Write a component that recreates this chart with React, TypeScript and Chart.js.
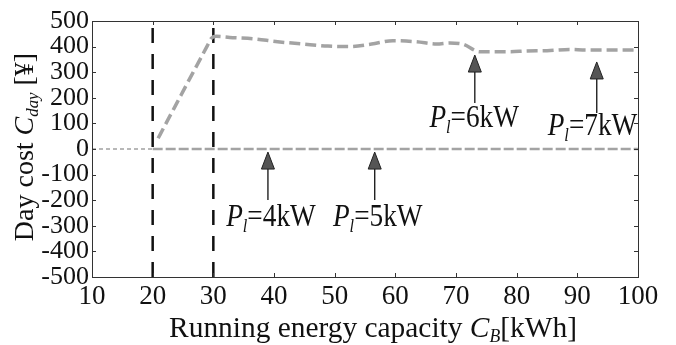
import React, { useEffect, useRef } from "react";
import { Chart, registerables } from "chart.js";
Chart.register(...registerables);

// ---- data ----
const capacityUpper = [20.9, 22, 23, 24, 25, 26, 27, 28, 29, 29.7, 30.5, 32.7, 36.5, 40.6, 44.8, 48.9, 52.5, 56.1, 59.6, 63.5, 66.8, 69, 71.1, 73.9, 76, 78.9, 81.7, 85, 88.7, 91.5, 94.8, 98.1, 100];
const costUpper = [42, 91, 136, 180, 225, 270, 314, 358, 403, 433, 440, 436, 431, 419, 410, 402, 400, 410, 423, 419, 410, 414, 410, 380, 380, 380, 383, 384, 389, 387, 387, 387, 387];
const capacityLowLight = [10, 20];
const costLowLight = [0, 0];
const capacityLow = [20, 100];
const costLow = [0, 0];
const boundaryCapacities = [20, 30];
const costRange = [-500, 500];
const xTickValues = [10, 20, 30, 40, 50, 60, 70, 80, 90, 100];
const yTickValues = [-500, -400, -300, -200, -100, 0, 100, 200, 300, 400, 500];
const arrowX = [39.0, 56.6, 73.1, 93.2];
const arrowTip = [-12, -12, 367, 340];
const arrowTail = [-199, -199, 180, 141];
const labelX = [39.5, 57.1, 73.0, 92.5];
const labelY = [-262, -262, 125, 94];
const labelPower = ["4", "5", "6", "7"];

const SERIF = '"Liberation Serif", "Times New Roman", serif';

type Run = { t: string; it?: boolean; sub?: boolean };

function runFont(r: Run, size: number) {
  const s = r.sub ? size * 0.6 : size;
  return `${r.it ? "italic " : ""}${s}px ${SERIF}`;
}

function drawRuns(ctx: CanvasRenderingContext2D, runs: Run[], cx: number, cy: number, size: number, sx = 1) {
  let w = 0;
  for (const r of runs) {
    ctx.font = runFont(r, size);
    w += ctx.measureText(r.t).width;
  }
  ctx.save();
  ctx.translate(cx, cy);
  ctx.scale(sx, 1);
  ctx.fillStyle = "#111";
  ctx.textBaseline = "alphabetic";
  ctx.textAlign = "left";
  let x = -w / 2;
  const base = size * 0.33;
  for (const r of runs) {
    ctx.font = runFont(r, size);
    ctx.fillText(r.t, x, r.sub ? base + size * 0.18 : base);
    x += ctx.measureText(r.t).width;
  }
  ctx.restore();
}

const decorPlugin = {
  id: "decor",
  afterDraw(chart: any) {
    const ctx: CanvasRenderingContext2D = chart.ctx;
    const a = chart.chartArea;
    const xs = chart.scales.x;
    const ys = chart.scales.y;
    ctx.save();
    // frame
    ctx.strokeStyle = "#333";
    ctx.lineWidth = 1;
    ctx.strokeRect(a.left + 0.5, a.top + 0.5, a.right - a.left, a.bottom - a.top);
    // inward ticks
    ctx.beginPath();
    for (const v of xTickValues) {
      const px = Math.round(xs.getPixelForValue(v)) + 0.5;
      ctx.moveTo(px, a.bottom);
      ctx.lineTo(px, a.bottom - 4);
      ctx.moveTo(px, a.top);
      ctx.lineTo(px, a.top + 4);
    }
    for (const v of yTickValues) {
      const py = Math.round(ys.getPixelForValue(v)) + 0.5;
      ctx.moveTo(a.left, py);
      ctx.lineTo(a.left + 4, py);
      ctx.moveTo(a.right, py);
      ctx.lineTo(a.right - 4, py);
    }
    ctx.stroke();

    // arrows
    for (let i = 0; i < arrowX.length; i++) {
      const px = xs.getPixelForValue(arrowX[i]);
      const tip = ys.getPixelForValue(arrowTip[i]);
      const tail = ys.getPixelForValue(arrowTail[i]);
      const headH = 17;
      const headW = 6.5;
      ctx.beginPath();
      ctx.strokeStyle = "#222";
      ctx.lineWidth = 1.4;
      ctx.moveTo(px, tail);
      ctx.lineTo(px, tip + headH - 1);
      ctx.stroke();
      ctx.beginPath();
      ctx.moveTo(px, tip);
      ctx.lineTo(px - headW, tip + headH);
      ctx.lineTo(px + headW, tip + headH);
      ctx.closePath();
      ctx.fillStyle = "#555";
      ctx.fill();
      ctx.strokeStyle = "#222";
      ctx.lineWidth = 1;
      ctx.stroke();
      drawRuns(
        ctx,
        [{ t: "P", it: true }, { t: "l", it: true, sub: true }, { t: "=" + labelPower[i] + "kW" }],
        xs.getPixelForValue(labelX[i]),
        ys.getPixelForValue(labelY[i]),
        31,
        0.88
      );
    }

    // x title
    drawRuns(
      ctx,
      [{ t: "Running energy capacity " }, { t: "C", it: true }, { t: "B", it: true, sub: true }, { t: "[kWh]" }],
      (a.left + a.right) / 2 + 8,
      327,
      30,
      0.98
    );
    // y title
    ctx.save();
    ctx.translate(24, 147);
    ctx.rotate(-Math.PI / 2);
    drawRuns(
      ctx,
      [{ t: "Day cost " }, { t: "C", it: true }, { t: "day", it: true, sub: true }, { t: " [¥]" }],
      0,
      0,
      28,
      1
    );
    ctx.restore();
    ctx.restore();
  },
};

export default function App() {
  const ref = useRef<HTMLCanvasElement | null>(null);
  useEffect(() => {
    document.body.style.margin = "0";
    const canvas = ref.current!;
    const toPts = (xs: number[], ys: number[]) => xs.map((x, i) => ({ x, y: ys[i] }));
    const vline = (c: number) => ({
      data: [{ x: c, y: costRange[0] }, { x: c, y: costRange[1] }],
      borderColor: "#111",
      borderWidth: 2.5,
      borderDash: [15, 11],
      pointRadius: 0,
      fill: false,
    });
    const chart = new Chart(canvas, {
      type: "line",
      data: {
        datasets: [
          {
            data: toPts(capacityLowLight, costLowLight),
            borderColor: "#b8b8b8",
            borderWidth: 2,
            borderDash: [4, 3],
            pointRadius: 0,
          },
          {
            data: toPts(capacityLow, costLow),
            borderColor: "#a3a3a3",
            borderWidth: 2.5,
            borderDash: [10, 3],
            pointRadius: 0,
          },
          {
            data: toPts(capacityUpper, costUpper),
            borderColor: "#a3a3a3",
            borderWidth: 3.5,
            borderDash: [11, 5],
            pointRadius: 0,
            cubicInterpolationMode: "monotone",
          },
          vline(boundaryCapacities[0]),
          vline(boundaryCapacities[1]),
        ] as any,
      },
      options: {
        responsive: false,
        animation: false,
        devicePixelRatio: 1,
        layout: { padding: { left: 0, right: 38, top: 21, bottom: 0 } },
        plugins: { legend: { display: false }, tooltip: { enabled: false } },
        scales: {
          x: {
            type: "linear",
            min: xTickValues[0],
            max: xTickValues[xTickValues.length - 1],
            afterBuildTicks: (s: any) => {
              s.ticks = xTickValues.map((v) => ({ value: v }));
            },
            afterFit: (s: any) => {
              s.height = 68;
            },
            grid: { display: false, drawTicks: false },
            border: { display: false },
            ticks: {
              autoSkip: false,
              maxRotation: 0,
              padding: 4,
              color: "#111",
              font: { family: SERIF, size: 27 },
            },
          },
          y: {
            type: "linear",
            min: costRange[0],
            max: costRange[1],
            afterBuildTicks: (s: any) => {
              s.ticks = yTickValues.map((v) => ({ value: v }));
            },
            afterFit: (s: any) => {
              s.width = 92;
            },
            grid: { display: false, drawTicks: false },
            border: { display: false },
            ticks: {
              autoSkip: false,
              padding: 3,
              color: "#111",
              font: { family: SERIF, size: 26 },
            },
          },
        },
      } as any,
      plugins: [decorPlugin],
    });
    return () => chart.destroy();
  }, []);
  return <canvas ref={ref} width={676} height={345} style={{ display: "block", width: 676, height: 345 }} />;
}
